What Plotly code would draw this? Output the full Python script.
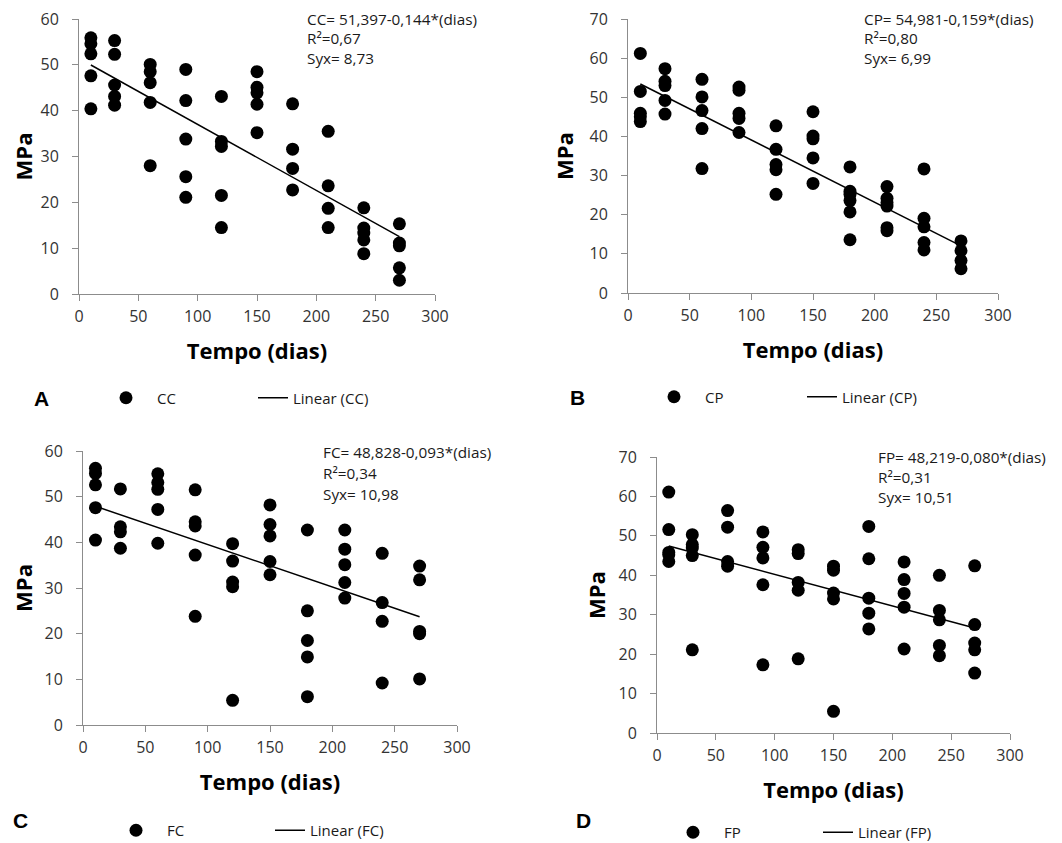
import plotly.graph_objects as go

# page is 1062x843; the html body has an 8px margin at top/left
PAGE_W, PAGE_H = 1062, 843
OFF = 8
W, H = PAGE_W - OFF, PAGE_H - OFF

# ---------------- data ----------------
DIAS = [10, 30, 60, 90, 120, 150, 180, 210, 240, 270]

CC_MPA = [
    [55.9, 54.6, 52.4, 47.6, 40.4],
    [55.3, 52.3, 45.6, 43.1, 41.2],
    [50.1, 48.5, 46.1, 41.8, 28.0],
    [49.0, 42.2, 33.8, 25.6, 21.1],
    [43.1, 33.3, 32.2, 21.5, 14.5],
    [48.5, 45.1, 43.9, 41.4, 35.2],
    [41.5, 31.6, 27.4, 22.7],
    [35.5, 23.6, 18.7, 14.5],
    [18.8, 14.4, 13.3, 11.8, 8.8],
    [15.3, 11.1, 10.5, 5.7, 3.0],
]
CP_MPA = [
    [61.2, 51.5, 45.9, 45.0, 43.8],
    [57.3, 54.1, 53.0, 49.2, 45.7],
    [54.6, 50.1, 46.6, 42.0, 31.8],
    [52.6, 51.8, 45.9, 44.6, 41.0],
    [42.7, 36.7, 32.8, 31.5, 25.2],
    [46.3, 40.1, 39.4, 34.5, 28.0],
    [32.2, 26.0, 25.2, 23.6, 20.7, 13.6],
    [27.2, 24.2, 23.1, 22.2, 16.7, 15.9],
    [31.7, 19.1, 16.9, 12.9, 11.0],
    [13.3, 10.8, 8.3, 6.2],
]
FC_MPA = [
    [56.2, 55.1, 52.6, 47.6, 40.5],
    [51.7, 43.4, 42.3, 38.7],
    [55.0, 53.1, 51.6, 47.2, 39.8],
    [51.5, 44.5, 43.6, 37.2, 23.8],
    [39.7, 35.9, 31.3, 30.3, 5.4],
    [48.2, 43.9, 41.4, 35.8, 32.9],
    [42.7, 25.0, 18.5, 14.9, 6.2],
    [42.7, 38.5, 35.1, 31.2, 27.8],
    [37.6, 26.8, 22.7, 9.2],
    [34.8, 31.8, 20.5, 20.0, 10.1],
]
FP_MPA = [
    [61.1, 51.6, 45.8, 45.2, 43.5],
    [50.3, 47.8, 46.9, 45.0, 21.1],
    [56.4, 52.2, 43.5, 42.3],
    [51.0, 47.1, 44.4, 37.6, 17.3],
    [46.5, 45.5, 38.2, 36.2, 18.8],
    [42.3, 41.3, 35.5, 34.0, 5.5],
    [52.4, 44.2, 34.2, 30.4, 26.4],
    [43.4, 38.9, 35.4, 31.9, 21.3],
    [40.0, 31.1, 28.7, 22.2, 19.6],
    [42.4, 27.5, 22.8, 21.1, 15.2],
]

# regression coefficients (intercept, slope)
CC_FIT = (51.397, -0.144)
CP_FIT = (54.981, -0.159)
FC_FIT = (48.828, -0.093)
FP_FIT = (48.219, -0.080)

CC_TXT = ["CC= 51,397-0,144*(dias)", "R²=0,67", "Syx= 8,73"]
CP_TXT = ["CP= 54,981-0,159*(dias)", "R²=0,80", "Syx= 6,99"]
FC_TXT = ["FC= 48,828-0,093*(dias)", "R²=0,34", "Syx= 10,98"]
FP_TXT = ["FP= 48,219-0,080*(dias)", "R²=0,31", "Syx= 10,51"]

X_TICKS = [0, 50, 100, 150, 200, 250, 300]

# ---------------- layout geometry (page pixels) ----------------
panels = [
    dict(name="CC", letter="A", vals=CC_MPA, fit=CC_FIT, txt=CC_TXT, ymax=60,
         box=(79, 435, 19, 294), ystand=6,
         eq_x=306, eq_y=(19, 38.5, 58), letter_xy=(41, 398),
         leg_m=(95, 398), leg_l=(253, 398), leg_anchor="middle"),
    dict(name="CP", letter="B", vals=CP_MPA, fit=CP_FIT, txt=CP_TXT, ymax=70,
         box=(628, 998, 19, 293), ystand=9,
         eq_x=863, eq_y=(19, 38.5, 58), letter_xy=(577, 397),
         leg_m=(643, 397), leg_l=(802, 397), leg_anchor="middle"),
    dict(name="FC", letter="C", vals=FC_MPA, fit=FC_FIT, txt=FC_TXT, ymax=60,
         box=(83, 457, 451, 725), ystand=8,
         eq_x=322, eq_y=(452, 473, 494), letter_xy=(20, 820),
         leg_m=(105, 847), leg_l=(270, 847), leg_anchor="bottom"),
    dict(name="FP", letter="D", vals=FP_MPA, fit=FP_FIT, txt=FP_TXT, ymax=70,
         box=(657, 1010, 457, 733), ystand=6,
         eq_x=877, eq_y=(457, 477, 497), letter_xy=(583, 820),
         leg_m=(662, 849), leg_l=(818, 849), leg_anchor="bottom"),
]

FONT = "Open Sans"
AX_COLOR = "#8c8c8c"
TICK_FONT = dict(family=FONT, size=16, color="#333333")
TITLE_FONT = dict(family=FONT, size=22, color="#000000")

fig = go.Figure()
layout = dict(
    width=W, height=H,
    margin=dict(l=0, r=0, t=0, b=0, autoexpand=False),
    paper_bgcolor="white", plot_bgcolor="white",
    showlegend=True,
)
annotations = []

def px_x(v):
    return (v - OFF) / W

def px_y(v):
    return 1 - (v - OFF) / H

for i, p in enumerate(panels):
    k = i + 1
    xa = "x" if k == 1 else f"x{k}"
    ya = "y" if k == 1 else f"y{k}"
    xkey = "xaxis" if k == 1 else f"xaxis{k}"
    ykey = "yaxis" if k == 1 else f"yaxis{k}"
    lm = "legend" if k == 1 else f"legend{2*k-1}"
    ll = f"legend{2*k}"

    xs, ys = [], []
    for d, vals in zip(DIAS, p["vals"]):
        for v in vals:
            xs.append(d)
            ys.append(v)

    fig.add_trace(go.Scatter(
        x=xs, y=ys, mode="markers", name=p["name"],
        marker=dict(color="black", size=13),
        xaxis=xa, yaxis=ya, legend=lm, cliponaxis=False,
    ))
    b0, b1 = p["fit"]
    lx = [DIAS[0], DIAS[-1]]
    ly = [b0 + b1 * x for x in lx]
    fig.add_trace(go.Scatter(
        x=lx, y=ly, mode="lines", name=f"Linear ({p['name']})",
        line=dict(color="black", width=1.5),
        xaxis=xa, yaxis=ya, legend=ll,
    ))

    x0, x1, y0, y1 = p["box"]
    layout[xkey] = dict(
        domain=[px_x(x0), px_x(x1)], range=[0, 300], anchor=ya,
        tickvals=X_TICKS, ticks="outside", ticklen=6, tickcolor=AX_COLOR,
        showline=True, linecolor=AX_COLOR, linewidth=1,
        showgrid=False, zeroline=False, tickfont=TICK_FONT,
        ticklabelstandoff=2, ticklabeloverflow="allow",
        title=dict(text="<b>Tempo (dias)</b>", font=TITLE_FONT, standoff=17),
    )
    layout[ykey] = dict(
        domain=[px_y(y1), px_y(y0)], range=[0, p["ymax"]], anchor=xa,
        dtick=10, ticks="outside", ticklen=6, tickcolor=AX_COLOR,
        showline=True, linecolor=AX_COLOR, linewidth=1,
        showgrid=False, zeroline=False, tickfont=TICK_FONT,
        ticklabelstandoff=10, ticklabeloverflow="allow",
        title=dict(text="<b>MPa</b>", font=TITLE_FONT, standoff=p["ystand"]),
    )

    for line_txt, ly_px in zip(p["txt"], p["eq_y"]):
        annotations.append(dict(
            xref="paper", yref="paper", x=px_x(p["eq_x"]), y=px_y(ly_px),
            xanchor="left", yanchor="middle", align="left", showarrow=False,
            text=line_txt, borderpad=0,
            font=dict(family=FONT, size=15.3, color="#1a1a1a"),
        ))
    lx_, ly_ = p["letter_xy"]
    annotations.append(dict(
        xref="paper", yref="paper", x=px_x(lx_), y=px_y(ly_),
        xanchor="center", yanchor="middle", showarrow=False,
        text="<b>" + p["letter"] + "</b>",
        font=dict(family="Liberation Sans", size=21, color="#000000"),
    ))

    mx, my = p["leg_m"]
    layout[lm] = dict(
        x=px_x(mx), y=px_y(my), xanchor="left", yanchor=p["leg_anchor"],
        orientation="h", itemwidth=52, bgcolor="rgba(0,0,0,0)",
        font=dict(family=FONT, size=15, color="#1a1a1a"),
    )
    lx2, ly2 = p["leg_l"]
    layout[ll] = dict(
        x=px_x(lx2), y=px_y(ly2), xanchor="left", yanchor=p["leg_anchor"],
        orientation="h", itemwidth=30, bgcolor="rgba(0,0,0,0)",
        font=dict(family=FONT, size=15, color="#1a1a1a"),
    )

layout["annotations"] = annotations
fig.update_layout(**layout)
fig.write_html("out.html")
